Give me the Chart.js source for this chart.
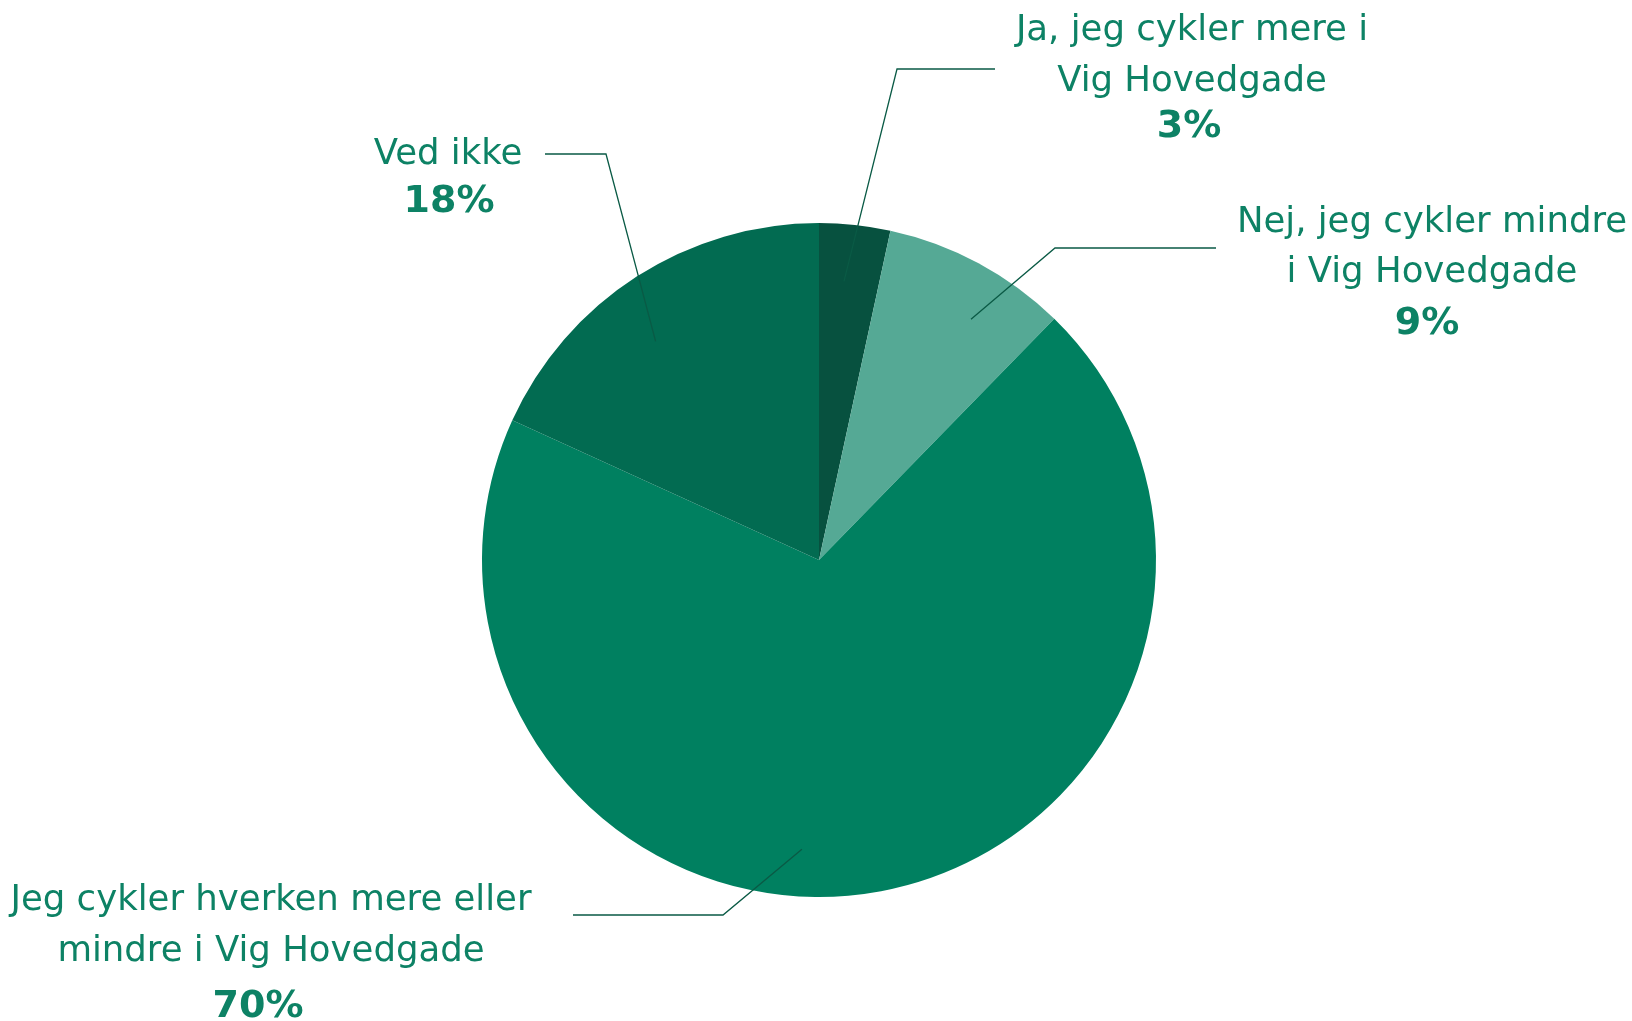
<!DOCTYPE html>
<html>
<head>
<meta charset="utf-8">
<script src="https://cdn.jsdelivr.net/npm/chart.js@4.4.1/dist/chart.umd.min.js"></script>
<style>
  html, body { margin: 0; padding: 0; background: #ffffff; }
  #wrap { width: 1632px; height: 1021px; }
</style>
</head>
<body>
<div id="wrap"><canvas id="pie-chart"></canvas></div>
<script>
// data
const categories = [
    ['Ja, jeg cykler mere i', 'Vig Hovedgade'],
    ['Nej, jeg cykler mindre', 'i Vig Hovedgade'],
    ['Jeg cykler hverken mere eller', 'mindre i Vig Hovedgade'],
    ['Ved ikke']
];
const shares = [3.4, 8.9, 69.5, 18.2];
const percentLabels = ['3%', '9%', '70%', '18%'];

const sliceColors = ['#07513f', '#55a995', '#008060', '#026b51'];
const textColor = '#0d8265';
const lineColor = '#0a5a45';

// label layout: text centre x, baselines, percent x/baseline, leader elbow/end, angle tweak (deg), radius fraction
const labelLayout = [
    {cx: 1192, lines: [40, 91], px: 1189, pct: 137, elbow: [897, 69], end: [995, 69], tweak: -1, frac: 0.83},
    {cx: 1432, lines: [232, 282], px: 1427, pct: 334, elbow: [1055, 248], end: [1216, 248], tweak: 4, frac: 0.845},
    {cx: 271, lines: [910, 961], px: 258, pct: 1017, elbow: [723, 915], end: [573, 915], tweak: 14, frac: 0.86},
    {cx: 448, lines: [164], px: 449, pct: 212, elbow: [606, 154], end: [545, 154], tweak: -4, frac: 0.81}
];

const leaderLabels = {
    id: 'leaderLabels',
    afterDatasetsDraw(chart) {
        const ctx = chart.ctx;
        const arcs = chart.getDatasetMeta(0).data;
        arcs.forEach(function(arc, i) {
            const p = arc.getProps(['x', 'y', 'outerRadius', 'startAngle', 'endAngle'], true);
            const lay = labelLayout[i];
            const mid = (p.startAngle + p.endAngle) / 2 + lay.tweak * Math.PI / 180;
            const r = p.outerRadius * lay.frac;
            ctx.save();
            ctx.strokeStyle = lineColor;
            ctx.lineWidth = 1.3;
            ctx.beginPath();
            ctx.moveTo(p.x + Math.cos(mid) * r, p.y + Math.sin(mid) * r);
            ctx.lineTo(lay.elbow[0], lay.elbow[1]);
            ctx.lineTo(lay.end[0], lay.end[1]);
            ctx.stroke();

            ctx.fillStyle = textColor;
            ctx.textAlign = 'center';
            ctx.textBaseline = 'alphabetic';
            ctx.font = '35.5px "DejaVu Sans"';
            categories[i].forEach(function(line, j) {
                ctx.fillText(line, lay.cx, lay.lines[j]);
            });
            ctx.font = 'bold 38px "DejaVu Sans"';
            ctx.fillText(percentLabels[i], lay.px, lay.pct);
            ctx.restore();
        });
    }
};

const pieCanvas = document.getElementById('pie-chart').getContext('2d');
let pieChart = new Chart(
    pieCanvas,
    {
        type: 'pie',
        data: {
            labels: categories.map(c => c.join(' ')),
            datasets: [
                {
                    data: shares,
                    backgroundColor: sliceColors,
                    borderWidth: 0,
                    hoverOffset: 0
                }
            ]
        },
        options: {
            responsive: true,
            maintainAspectRatio: false,
            animation: false,
            layout: {
                padding: {top: 223, bottom: 124, left: 6, right: 0}
            },
            plugins: {
                legend: {display: false},
                tooltip: {enabled: false}
            }
        },
        plugins: [leaderLabels]
    }
);
</script>
</body>
</html>
